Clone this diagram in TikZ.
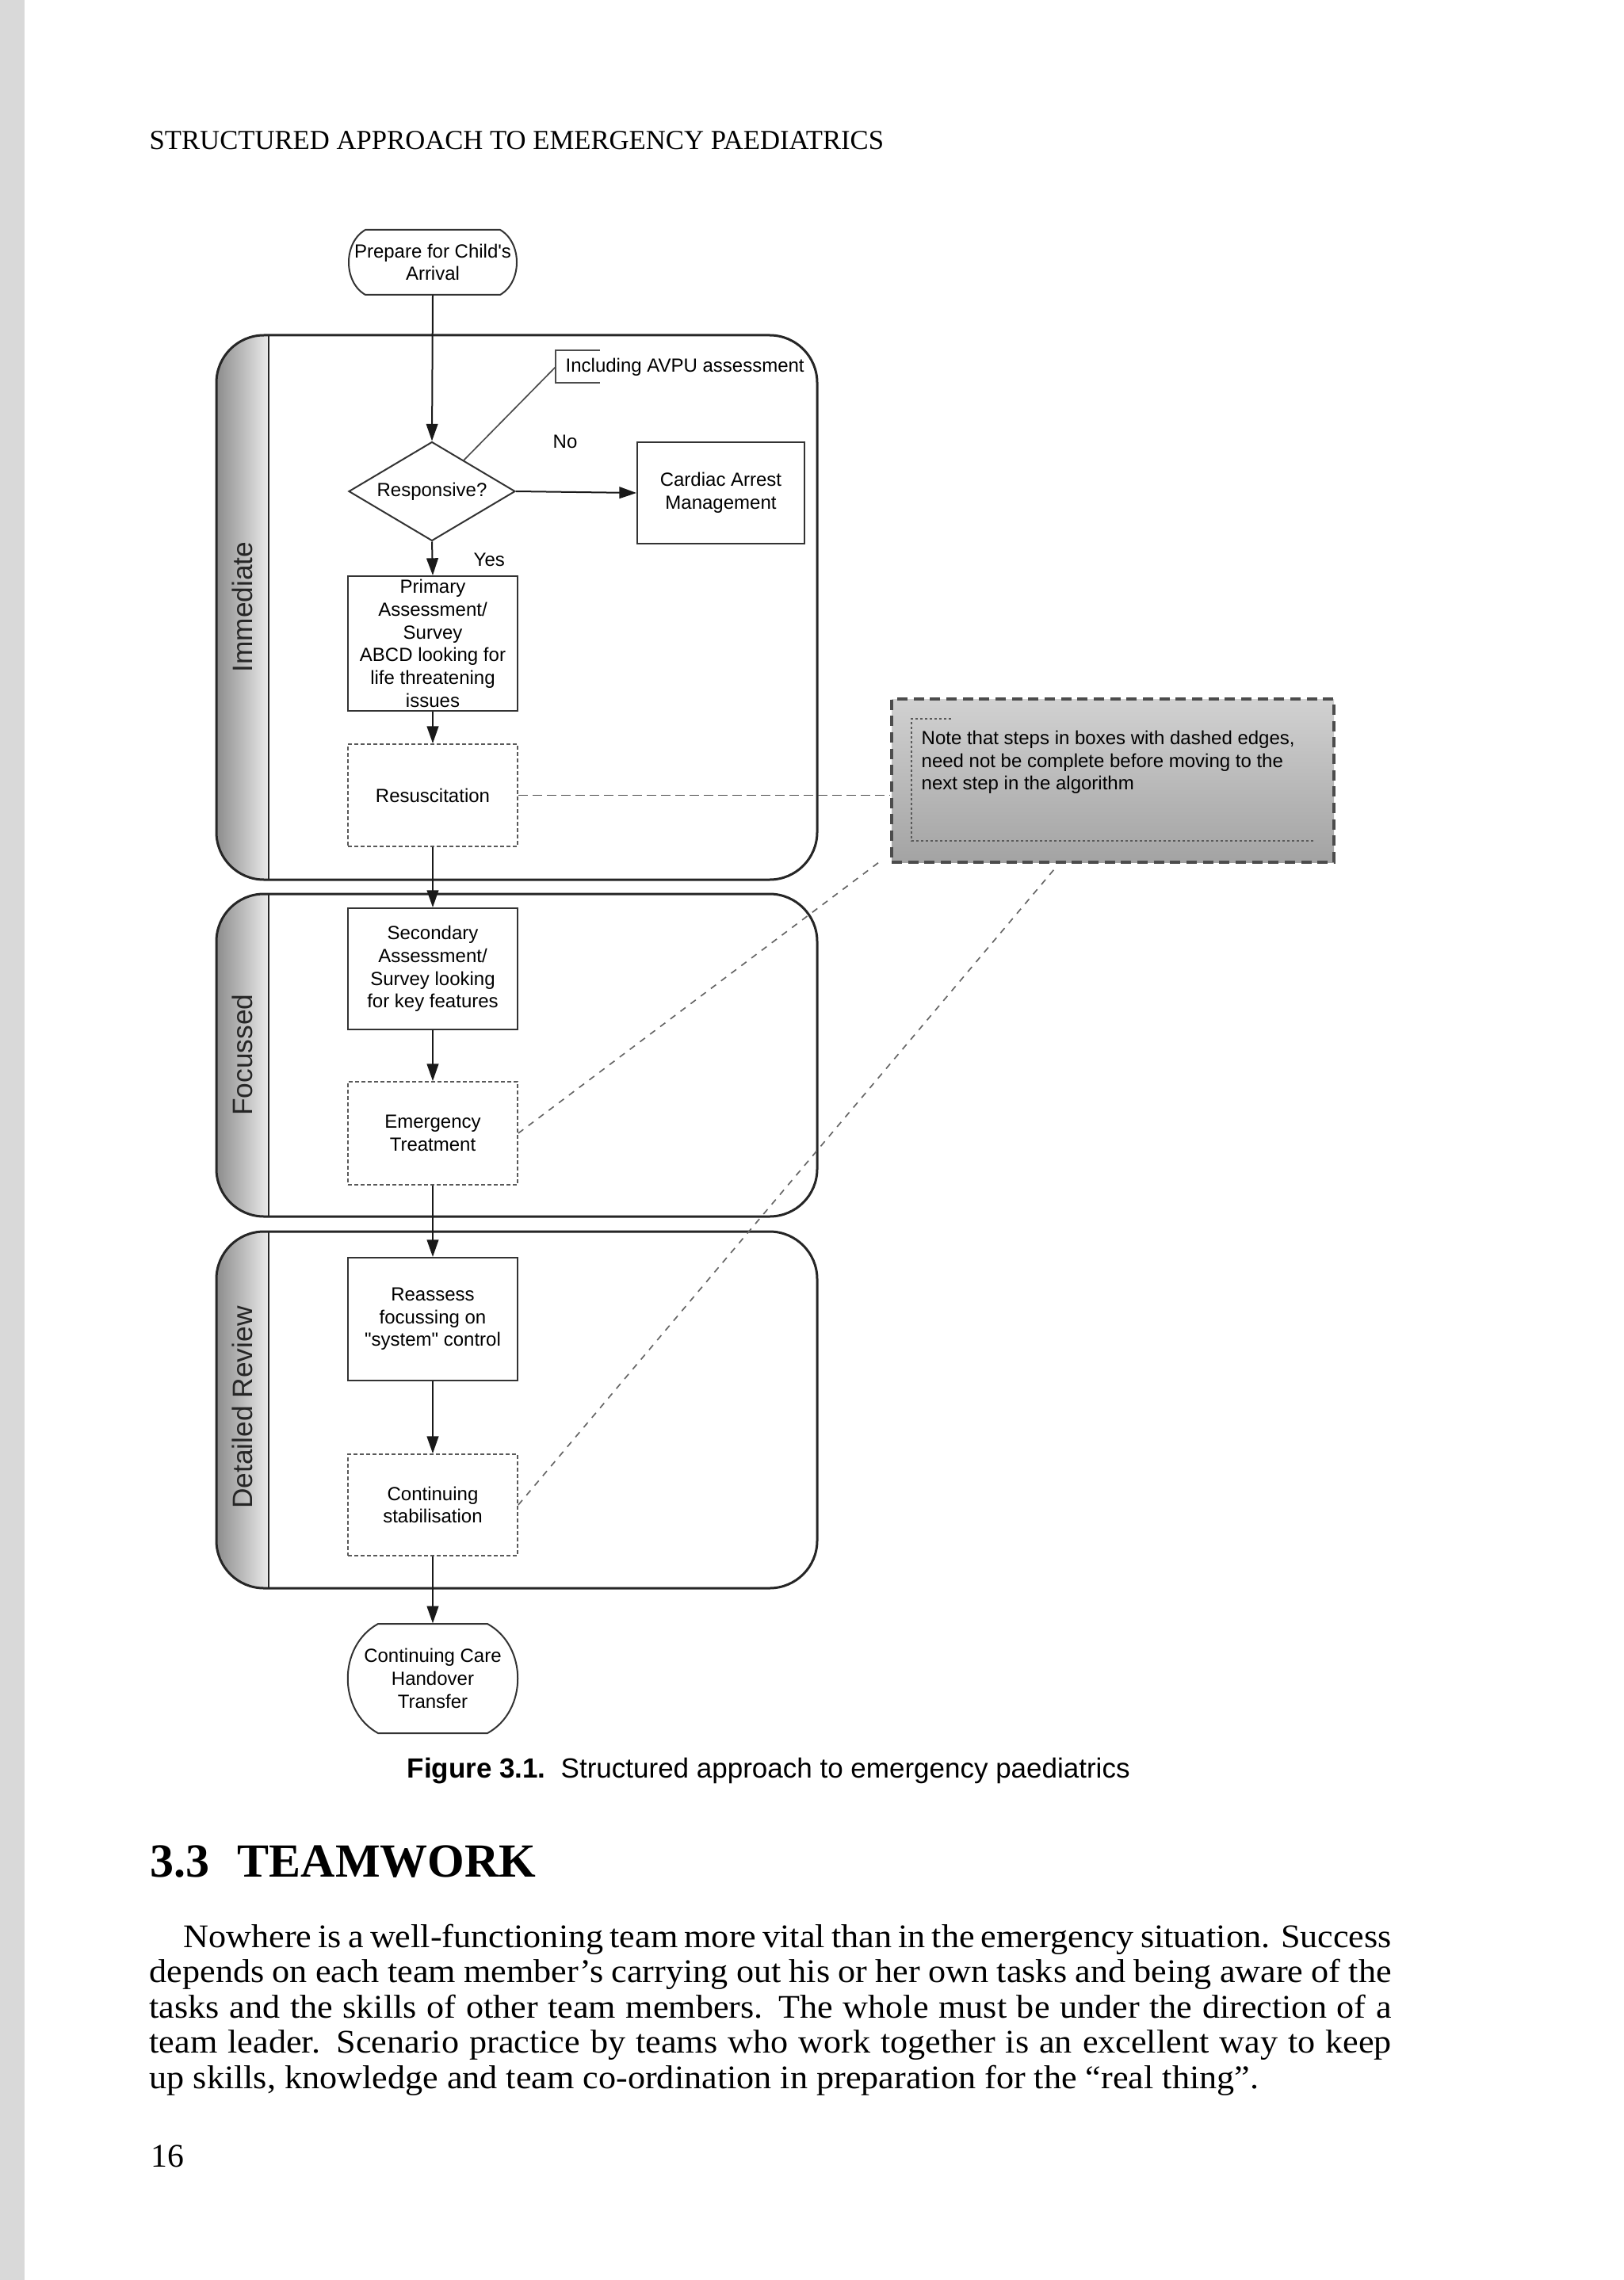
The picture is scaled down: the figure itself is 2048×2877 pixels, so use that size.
\documentclass[tikz,border=0pt]{standalone}
\usepackage{fontspec}
\setmainfont{Liberation Serif}
\newfontfamily\dsans{Liberation Sans}
\newfontfamily\bodyfont[FakeStretch=1.06]{Liberation Serif}
\usetikzlibrary{arrows.meta,shapes.geometric,calc}
\begin{document}
\begin{tikzpicture}[x=0.3pt,y=-0.3pt,
  diag/.style={font={\dsans\fontsize{7.2pt}{8.6pt}\selectfont}},
  box/.style={diag, draw=black!80, line width=0.6pt, minimum width=64.2pt, inner sep=0pt, align=center},
  dbox/.style={box, draw=black!65, line width=0.55pt, dash pattern=on 1.4pt off 1pt},
  flow/.style={draw=black!90, line width=0.6pt, -{Triangle[length=6.5pt,width=4.4pt]}},
  lanebd/.style={draw=black!85, line width=0.9pt, rounded corners=18pt},
  lanelabel/.style={rotate=90, font={\dsans\fontsize{10.6pt}{12pt}\selectfont}, text=black!85},
  noteline/.style={draw=black!60, line width=0.5pt, dash pattern=on 2.4pt off 2.4pt},
  resusline/.style={draw=black!70, line width=0.55pt, dash pattern=on 3.6pt off 1.8pt},
  annot/.style={draw=black!70, line width=0.5pt},
  txt/.style={inner sep=0pt, anchor=base west},
  term/.style={draw=black!80, line width=0.6pt},
  body/.style={txt, font={\bodyfont\fontsize{12.5pt}{13.35pt}\selectfont}},
  head/.style={txt, font={\bfseries\fontsize{18pt}{20pt}\selectfont}},
]
\useasboundingbox (0,0) rectangle (2048,2877);
\fill[white] (0,0) rectangle (2048,2877);
\fill[black!15] (0,0) rectangle (31,2877);

% running header
\node[txt, font={\fontsize{10.4pt}{12pt}\selectfont}] (header) at (188,189) {STRUCTURED APPROACH TO EMERGENCY PAEDIATRICS};

% swimlanes
\foreach \ytop/\ybot in {423/1110, 1128/1535, 1554/2004} {
  \begin{scope}
    \clip[rounded corners=18pt] (273,\ytop) rectangle (1031,\ybot);
    \shade[left color=black!45, right color=black!8] (273,\ytop) rectangle (339,\ybot);
  \end{scope}
  \draw[lanebd] (273,\ytop) rectangle (1031,\ybot);
  \draw[draw=black!85, line width=0.8pt] (339,\ytop) -- (339,\ybot);
}
\node[lanelabel] (labI) at (306,766) {Immediate};
\node[lanelabel] (labF) at (306,1331) {Focussed};
\node[lanelabel] (labD) at (306,1776) {Detailed Review};

% start terminal
\draw[term] (461,290) -- (631,290) .. controls (659,306) and (659,356) .. (631,372) -- (461,372) .. controls (433,356) and (433,306) .. (461,290) -- cycle;
\node[diag, align=center, minimum width=63.6pt, minimum height=24.6pt, inner sep=0pt] (start) at (546,331) {Prepare for Child\char39 s\\Arrival};

% decision
\node[diamond, diag, draw=black!80, line width=0.6pt, minimum width=63pt, minimum height=37.5pt, inner sep=0pt, aspect=1.68] (resp) at (545,620) {Responsive?};
\node[box, minimum width=63.3pt, minimum height=38.4pt] (cardiac) at (909.5,622) {Cardiac Arrest\\Management};

% annotation
\node[diag, anchor=west, inner sep=0pt] (avpu) at (713,463) {Including AVPU assessment};
\draw[annot] (757,442) -- (701,442) -- (701,483) -- (757,483);
\coordinate (avpub) at (701,463);
\draw[annot] (avpub) -- ($(resp.north)!0.38!(resp.east)$);

\node[diag, txt] (nolab) at (697,566) {No};
\node[diag, txt] (yeslab) at (597,714) {Yes};

% boxes
\node[box, minimum height=51pt] (primary) at (546,812) {Primary\\Assessment/\\Survey\\ABCD looking for\\life threatening\\issues};
\node[dbox, minimum height=38.7pt] (resus) at (546,1003.5) {Resuscitation};
\node[box, minimum height=45.9pt] (secondary) at (546,1222.5) {Secondary\\Assessment/\\Survey looking\\for key features};
\node[dbox, minimum height=39pt] (emerg) at (546,1430) {Emergency\\Treatment};
\node[box, minimum height=46.5pt] (reassess) at (546,1664.5) {Reassess\\focussing on\\\char34 system\char34\ control};
\node[dbox, minimum height=38.4pt] (contstab) at (546,1899) {Continuing\\stabilisation};

% end terminal
\draw[term] (477,2049) -- (615,2049) .. controls (666,2077) and (666,2159) .. (615,2187) -- (477,2187) .. controls (426,2159) and (426,2077) .. (477,2049) -- cycle;
\node[diag, align=center, minimum width=64.2pt, minimum height=41.4pt, inner sep=0pt] (finish) at (546,2118) {Continuing Care\\Handover\\Transfer};

% note box
\node[draw=black!70, line width=1pt, dash pattern=on 3.9pt off 2.3pt, top color=black!18, bottom color=black!36, minimum width=167.4pt, minimum height=61.8pt, inner sep=0pt] (note) at (1404,985) {};
\draw[draw=black!65, line width=0.45pt, dash pattern=on 1pt off 0.8pt] (1200,907) -- (1150,907) -- (1150,1061) -- (1657,1061);
\node[diag, align=left, anchor=west, inner sep=0pt] (notetext) at (1162,962) {Note that steps in boxes with dashed edges,\\need not be complete before moving to the\\next step in the algorithm};

% flow connectors
\draw[flow] (start.south) -- (resp.north);
\draw[flow] (resp.east) -- (cardiac.west);
\draw[flow] (resp.south) -- (primary.north);
\draw[flow] (primary.south) -- (resus.north);
\draw[flow] (resus.south) -- (secondary.north);
\draw[flow] (secondary.south) -- (emerg.north);
\draw[flow] (emerg.south) -- (reassess.north);
\draw[flow] (reassess.south) -- (contstab.north);
\draw[flow] (contstab.south) -- (finish.north);

% note connectors
\coordinate (etEnd) at (1113,1085);
\coordinate (csEnd) at (1330,1097);
\draw[resusline] (resus.east) -- (resus.east -| note.west);
\draw[noteline] (emerg.east) -- (etEnd);
\draw[noteline] (contstab.east) -- (csEnd);

% caption
\node[txt, font={\dsans\fontsize{10.5pt}{12pt}\selectfont}] (caption) at (513,2243) {\textbf{Figure 3.1.}\hspace{5.7pt}Structured approach to emergency paediatrics};

% section heading
\node[head] (secnum) at (189,2368) {3.3};
\node[head] (sectitle) at (299,2368) {TEAMWORK};

% paragraph
\node[body] (p1) at (231,2457) {\makebox[457.2pt][s]{Nowhere is a well-functioning team more vital than in the emergency situation. Success}};
\node[body] (p2) at (188,2501.5) {\makebox[470.1pt][s]{depends on each team member’s carrying out his or her own tasks and being aware of the}};
\node[body] (p3) at (188,2546) {\makebox[470.1pt][s]{tasks and the skills of other team members. The whole must be under the direction of a}};
\node[body] (p4) at (188,2590.5) {\makebox[470.1pt][s]{team leader. Scenario practice by teams who work together is an excellent way to keep}};
\node[body] (p5) at (188,2635) {up skills, knowledge and team co-ordination in preparation for the “real thing”.};

% page number
\node[txt, font={\fontsize{12.5pt}{14pt}\selectfont}] (pnum) at (190,2734) {16};
\end{tikzpicture}
\end{document}
